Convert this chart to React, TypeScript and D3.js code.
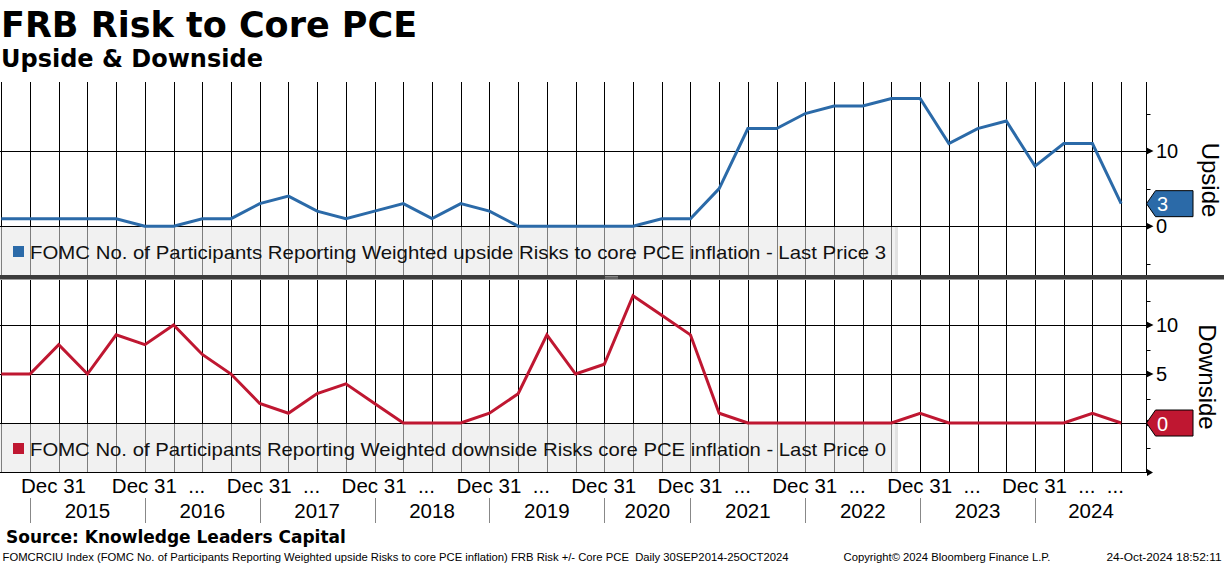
import React from "react";
import * as d3 from "d3";

// ---- data ----
const observations = [
  "2014-09", "2014-12",
  "2015-03", "2015-06", "2015-09", "2015-12",
  "2016-03", "2016-06", "2016-09", "2016-12",
  "2017-03", "2017-06", "2017-09", "2017-12",
  "2018-03", "2018-06", "2018-09", "2018-12",
  "2019-03", "2019-06", "2019-09", "2019-12",
  "2020-06", "2020-09", "2020-12",
  "2021-03", "2021-06", "2021-09", "2021-12",
  "2022-03", "2022-06", "2022-09", "2022-12",
  "2023-03", "2023-06", "2023-09", "2023-12",
  "2024-03", "2024-06", "2024-09",
];
const upside = [
  1, 1, 1, 1, 1, 0, 0, 1, 1, 3,
  4, 2, 1, 2, 3, 1, 3, 2, 0, 0,
  0, 0, 0, 1, 1, 5, 13, 13, 15, 16,
  16, 17, 17, 11, 13, 14, 8, 11, 11, 3,
];
const downside = [
  5, 5, 8, 5, 9, 8, 10, 7, 5, 2,
  1, 3, 4, 2, 0, 0, 0, 1, 3, 9,
  5, 6, 13, 11, 9, 1, 0, 0, 0, 0,
  0, 0, 1, 0, 0, 0, 0, 0, 1, 0,
];
const yearLabels = ["2015", "2016", "2017", "2018", "2019", "2020", "2021", "2022", "2023", "2024"];
const dateTickLabels = [
  "Dec 31", "Dec 31  ...", "Dec 31  ...", "Dec 31  ...", "Dec 31  ...",
  "Dec 31", "Dec 31  ...", "Dec 31  ...", "Dec 31  ...", "Dec 31  ...  ...",
];
const upperMajor = [0, 10];
const upperMinor = [-5, 5, 15];
const lowerMajor = [0, 5, 10];
const lowerMinor = [-2.5, 2.5, 7.5, 12.5];
const upsideLegend = "FOMC No. of Participants Reporting Weighted upside Risks to core PCE inflation - Last Price 3";
const downsideLegend = "FOMC No. of Participants Reporting Weighted downside Risks core PCE inflation - Last Price 0";
const title = "FRB Risk to Core PCE";
const subtitle = "Upside & Downside";
const source = "Source: Knowledge Leaders Capital";
const footerLeft = "FOMCRCIU Index (FOMC No. of Participants Reporting Weighted upside Risks to core PCE inflation) FRB Risk +/- Core PCE  Daily 30SEP2014-25OCT2024";
const footerMid = "Copyright\u00A9 2024 Bloomberg Finance L.P.";
const footerRight = "24-Oct-2024 18:52:11";

// ---- style ----
const BLUE = "#2b6aa8";
const RED = "#bf1731";
const FONT = "'Liberation Sans', Arial, sans-serif";
const BOLD = "'DejaVu Sans', Verdana, sans-serif";

export default function App() {
  const W = 1224, H = 565;
  const axisX = 1146.5;
  const x = d3.scaleLinear().domain([0, 39.9]).range([1.3, 1147]);
  const uTop = 82, uBot = 275, lTop = 280, lBot = 472;
  const yU = d3.scaleLinear().domain([-6.5, 19.2]).range([uBot, uTop]);
  const yL = d3.scaleLinear().domain([-5, 14.6]).range([lBot, lTop]);
  const idx = d3.range(observations.length);
  const lineU = d3.line<number>().x((i) => x(i)).y((i) => yU(upside[i]));
  const lineL = d3.line<number>().x((i) => x(i)).y((i) => yL(downside[i]));
  const px = (v: number) => Math.round(v) + 0.5;

  // year boundaries: December observations
  const decIdx = idx.filter((i) => observations[i].endsWith("-12"));
  const bounds = [...decIdx, 39.9];

  const lastU = upside[upside.length - 1];
  const lastL = downside[downside.length - 1];
  const tag = (yv: number) =>
    `M${axisX},${yv} L${axisX + 9},${yv - 13} L1193,${yv - 13} L1193,${yv + 13} L${axisX + 9},${yv + 13} Z`;

  const panel = (top: number, bot: number, y: d3.ScaleLinear<number, number>, major: number[], minor: number[]) => (
    <g>
      {idx.map((i) => (
        <line key={"v" + i} x1={px(x(i))} x2={px(x(i))} y1={top} y2={bot} stroke="#000" strokeWidth={1} />
      ))}
      <line x1={axisX} x2={axisX} y1={top} y2={bot} stroke="#000" strokeWidth={1} />
      {major.map((t) => (
        <g key={"M" + t}>
          <line x1={0} x2={axisX} y1={px(y(t))} y2={px(y(t))} stroke="#000" strokeWidth={1} />
          <path d={`M${axisX},${y(t) - 3.5} L${axisX + 7},${y(t)} L${axisX},${y(t) + 3.5} Z`} fill="#000" />
          <text x={1156} y={y(t) + 7} fontFamily={FONT} fontSize={20} fill="#000">{t}</text>
        </g>
      ))}
      {minor.map((t) => (
        <line key={"m" + t} x1={axisX} x2={axisX + 4} y1={px(y(t))} y2={px(y(t))} stroke="#000" strokeWidth={1} />
      ))}
    </g>
  );

  const legend = (yBox: number, color: string, text: string) => (
    <g>
      <rect x={0} y={yBox} width={898} height={48} fill="#e6e6e6" fillOpacity={0.55} />
      <rect x={895} y={yBox} width={3} height={48} fill="#d8d8d8" fillOpacity={0.6} />
      <rect x={13} y={yBox + 19} width={11} height={11} fill={color} />
      <text x={30} y={yBox + 32} fontFamily={FONT} fontSize={19} fill="#111" textLength={856} lengthAdjust="spacingAndGlyphs">{text}</text>
    </g>
  );

  return (
    <svg width={W} height={H} viewBox={`0 0 ${W} ${H}`} style={{ position: "fixed", left: 0, top: 0, background: "#fff" }}>
      <rect x={0} y={0} width={W} height={H} fill="#fff" />
      <text x={1} y={37} fontFamily={BOLD} fontWeight="bold" fontSize={35} fill="#000">{title}</text>
      <text x={1} y={67} fontFamily={BOLD} fontWeight="bold" fontSize={24} fill="#000">{subtitle}</text>

      {panel(uTop, uBot, yU, upperMajor, upperMinor)}
      {panel(lTop, lBot, yL, lowerMajor, lowerMinor)}

      {legend(227, BLUE, upsideLegend)}
      {legend(424, RED, downsideLegend)}

      <path d={lineU(idx) || ""} fill="none" stroke={BLUE} strokeWidth={3} strokeLinejoin="miter" />
      <path d={lineL(idx) || ""} fill="none" stroke={RED} strokeWidth={3} strokeLinejoin="miter" />

      {/* panel separator */}
      <rect x={0} y={275} width={W} height={4.5} fill="#3c3c3c" />
      <line x1={605} x2={618} y1={276.5} y2={276.5} stroke="#9a9a9a" strokeWidth={0.8} />
      <line x1={605} x2={618} y1={278} y2={278} stroke="#9a9a9a" strokeWidth={0.8} />

      {/* last price tags */}
      <path d={tag(yU(lastU))} fill={BLUE} stroke="#000" strokeWidth={1} />
      <text x={1157} y={yU(lastU) + 7.5} fontFamily={FONT} fontSize={20} fill="#fff">{lastU}</text>
      <path d={tag(yL(lastL))} fill={RED} stroke="#000" strokeWidth={1} />
      <text x={1157} y={yL(lastL) + 7.5} fontFamily={FONT} fontSize={20} fill="#fff">{lastL}</text>

      {/* right axis titles */}
      <text transform={`translate(1202,180) rotate(90)`} textAnchor="middle" fontFamily={FONT} fontSize={24} fill="#000">Upside</text>
      <text transform={`translate(1199,377) rotate(90)`} textAnchor="middle" fontFamily={FONT} fontSize={24} fill="#000">Downside</text>

      {/* x axis */}
      <line x1={0} x2={1147} y1={472.5} y2={472.5} stroke="#000" strokeWidth={1} />
      <path d={`M1147,469 L1153,472.5 L1147,476 Z`} fill="#000" />
      {bounds.slice(0, -1).map((b, k) => (
        <g key={"yr" + k}>
          <line x1={px(x(b))} x2={px(x(b))} y1={498} y2={523} stroke="#888" strokeWidth={1} />
          <text x={(x(b) + x(bounds[k + 1])) / 2} y={518} textAnchor="middle" fontFamily={FONT} fontSize={20.5} fill="#000">{yearLabels[k]}</text>
          <text x={Math.max(21, x(b) - 33)} y={493} fontFamily={FONT} fontSize={20.5} fill="#000" style={{ whiteSpace: "pre" }}>{dateTickLabels[k]}</text>
        </g>
      ))}

      {/* footer */}
      <text x={6} y={543} fontFamily={BOLD} fontWeight="bold" fontSize={17} fill="#000">{source}</text>
      <text x={2.5} y={561} fontFamily={FONT} fontSize={11} fill="#000" textLength={786} lengthAdjust="spacingAndGlyphs" style={{ whiteSpace: "pre" }}>{footerLeft}</text>
      <text x={843.5} y={561} fontFamily={FONT} fontSize={11} fill="#000" textLength={207} lengthAdjust="spacingAndGlyphs">{footerMid}</text>
      <text x={1106.5} y={561} fontFamily={FONT} fontSize={11} fill="#000" textLength={115} lengthAdjust="spacingAndGlyphs">{footerRight}</text>
    </svg>
  );
}
